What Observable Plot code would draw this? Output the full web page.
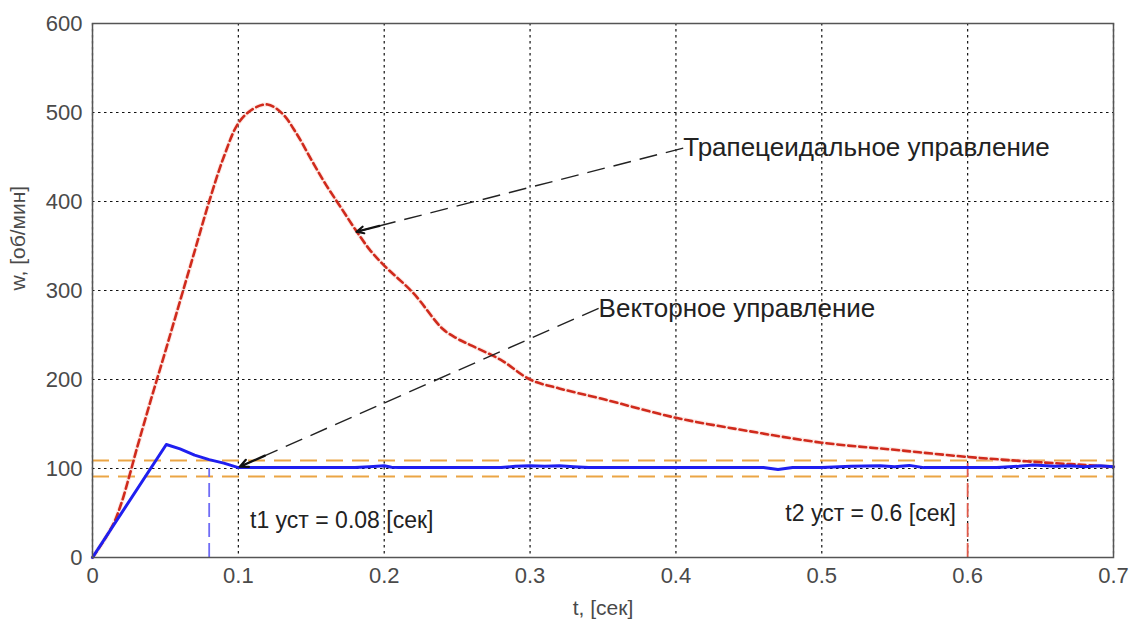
<!DOCTYPE html>
<html><head><meta charset="utf-8">
<script src="https://cdn.jsdelivr.net/npm/d3@7"></script>
<script src="https://cdn.jsdelivr.net/npm/@observablehq/plot@0.6"></script>
<style>body{margin:0;background:#fff;font-family:"Liberation Sans",Arial,sans-serif}</style>
</head><body><div id="chart"></div>
<script>
// Axis ticks
const xTicks = [0, 0.1, 0.2, 0.3, 0.4, 0.5, 0.6, 0.7];
const yTicks = [0, 100, 200, 300, 400, 500, 600];
const xLabel = "t, [сек]";
const yLabel = "w, [об/мин]";

// Trapezoidal control (red dashed)
const redT = [0, 0.005, 0.01, 0.015, 0.02, 0.025, 0.03, 0.04, 0.05, 0.06, 0.07, 0.08, 0.09, 0.1, 0.11, 0.12, 0.13, 0.14, 0.15, 0.16, 0.17, 0.18, 0.19, 0.2, 0.22, 0.24, 0.25, 0.26, 0.28, 0.3, 0.32, 0.35, 0.4, 0.45, 0.5, 0.55, 0.6, 0.65, 0.7];
const redW = [0, 12, 25, 40, 62, 90, 120, 177, 232, 288, 344, 400, 450, 488, 504, 509, 499, 476, 447, 419, 394, 369, 346, 328, 297, 257, 246, 238, 222, 200, 190, 178, 157, 142, 129, 121, 113, 107, 102];

// Vector control (blue solid)
const blueT = [0, 0.0506, 0.06, 0.07, 0.08, 0.09, 0.1, 0.12, 0.18, 0.19, 0.2, 0.205, 0.21, 0.28, 0.29, 0.3, 0.31, 0.32, 0.33, 0.34, 0.46, 0.47, 0.48, 0.5, 0.52, 0.54, 0.55, 0.56, 0.57, 0.62, 0.635, 0.645, 0.66, 0.67, 0.68, 0.69, 0.7];
const blueW = [0, 127, 122, 115, 110, 106, 101, 101, 101, 102, 103, 101.5, 101, 101, 102.5, 103, 102.5, 103, 102, 101, 101, 99, 101, 101, 102.5, 103, 102, 103.5, 101, 101, 102.5, 104, 102.5, 103, 102, 103, 102];

// Settling band (orange dashed)
const bandLevels = [91, 109];

// Settling-time markers
const settleT = [0.08, 0.6];
const settleTop = [100, 110];
const settleColor = ["#6f6cf5", "#e05a4a"];

// Annotation texts
const annText = ["Трапецеидальное управление", "Векторное управление", "t1 уст = 0.08 [сек]", "t2 уст = 0.6 [сек]"];
const annT = [0.405, 0.347, 0.108, 0.475];
const annW = [460, 280, 41, 49];
const annSize = [26, 26, 23, 23];

// Arrows (from label to curve)
const arrowT1 = [0.405, 0.347];
const arrowW1 = [460, 280];
const arrowT2 = [0.181, 0.101];
const arrowW2 = [366, 102];

const red = redT.map((t, i) => ({t, w: redW[i]}));
const blue = blueT.map((t, i) => ({t, w: blueW[i]}));
const settle = settleT.map((t, i) => ({t, w: settleTop[i], c: settleColor[i]}));
const ann = annText.map((s, i) => ({s, t: annT[i], w: annW[i], size: annSize[i]}));
const arrows = arrowT1.map((t, i) => ({x1: t, y1: arrowW1[i], x2: arrowT2[i], y2: arrowW2[i]}));
const heads = arrows.map(a => ({x1: a.x2 + (a.x1 - a.x2) * 0.07, y1: a.y2 + (a.y1 - a.y2) * 0.07, x2: a.x2, y2: a.y2}));

const chart = Plot.plot({
  width: 1139,
  height: 621,
  marginLeft: 92,
  marginRight: 26,
  marginTop: 23,
  marginBottom: 64,
  style: {fontFamily: "'Liberation Sans', Arial, sans-serif", background: "#fff"},
  x: {domain: [0, 0.7]},
  y: {domain: [0, 600]},
  marks: [
    Plot.ruleY(yTicks, {stroke: "#111", strokeWidth: 1.2, strokeDasharray: "2.5,3.5"}),
    Plot.ruleX(xTicks, {stroke: "#111", strokeWidth: 1.2, strokeDasharray: "2.5,3.5"}),
    Plot.ruleY(bandLevels, {stroke: "#eba545", strokeWidth: 2.2, strokeDasharray: "17,9"}),
    Plot.ruleX(settle, {x: "t", y1: 0, y2: "w", stroke: "c", strokeWidth: 1.8, strokeDasharray: "14,6"}),
    Plot.line(red, {x: "t", y: "w", stroke: "#f7c4b8", strokeWidth: 4.5, strokeOpacity: 0.35, curve: "catmull-rom"}),
    Plot.line(red, {x: "t", y: "w", stroke: "#d02a1c", strokeWidth: 2.6, strokeDasharray: "7,4", curve: "catmull-rom"}),
    Plot.line(blue, {x: "t", y: "w", stroke: "#1f1ff0", strokeWidth: 3, strokeLinejoin: "round"}),
    Plot.link(arrows, {x1: "x1", y1: "y1", x2: "x2", y2: "y2", stroke: "#222", strokeWidth: 1.4, strokeDasharray: "18,9"}),
    Plot.arrow(heads, {x1: "x1", y1: "y1", x2: "x2", y2: "y2", stroke: "#111", strokeWidth: 2.2, headLength: 14, headAngle: 50}),
    Plot.text(ann, {x: "t", y: "w", text: "s", fontSize: "size", textAnchor: "start", lineAnchor: "middle", fill: "#222"}),
    Plot.frame({stroke: "#555", strokeWidth: 1.5}),
    Plot.axisX(xTicks, {tickSize: 0, tickPadding: 10, fontSize: 22, fill: "#4a4a4a", label: null, tickFormat: d => String(d)}),
    Plot.axisY(yTicks, {tickSize: 0, tickPadding: 10, fontSize: 22, fill: "#4a4a4a", label: null, tickFormat: d => String(d)}),
    Plot.text([xLabel], {frameAnchor: "bottom", dy: 51, fontSize: 21, fill: "#4a4a4a", lineAnchor: "middle"}),
    Plot.text([yLabel], {frameAnchor: "left", dx: -74, rotate: -90, fontSize: 21, fill: "#4a4a4a", lineAnchor: "middle"})
  ]
});
document.getElementById("chart").appendChild(chart);
</script>
</body></html>
